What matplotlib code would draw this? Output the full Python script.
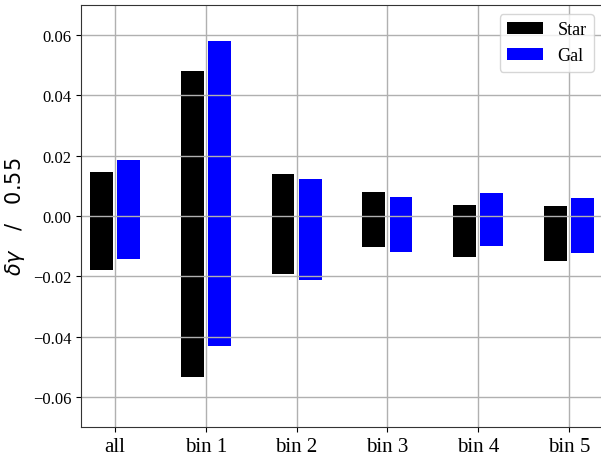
import matplotlib
matplotlib.use('Agg')
import matplotlib.pyplot as plt
import numpy as np

# bin labels and the floating bar ranges (low, high) for each sample
labels = ['all', 'bin 1', 'bin 2', 'bin 3', 'bin 4', 'bin 5']
star_low = [-0.0178, -0.0534, -0.0192, -0.0102, -0.0136, -0.0150]
star_high = [0.0146, 0.0482, 0.0140, 0.0080, 0.0037, 0.0033]
gal_low = [-0.0142, -0.0431, -0.0212, -0.0120, -0.0099, -0.0123]
gal_high = [0.0186, 0.0581, 0.0123, 0.0063, 0.0076, 0.0060]

plt.rcParams['font.family'] = 'serif'
plt.rcParams['font.serif'] = ['Liberation Serif', 'DejaVu Serif']
plt.rcParams['mathtext.fontset'] = 'dejavusans'

fig = plt.figure(figsize=(6.01, 4.56), dpi=100)
ax = fig.add_axes([81/601, 1-428/456, 522/601, 422/456])

x = np.arange(len(labels))
star_low = np.array(star_low)
gal_low = np.array(gal_low)
ax.bar(x-0.15, np.array(star_high)-star_low, bottom=star_low, width=0.25, color='black', label='Star')
ax.bar(x+0.15, np.array(gal_high)-gal_low, bottom=gal_low, width=0.25, color='blue', label='Gal')

ax.set_xlim(-0.375, 5.375)
ax.set_ylim(-0.07, 0.07)
ax.set_xticks(x)
ax.set_xticklabels(labels, fontsize=15)
ax.set_yticks([-0.06, -0.04, -0.02, 0.0, 0.02, 0.04, 0.06])
ax.set_yticklabels(['\u22120.06', '\u22120.04', '\u22120.02', '0.00', '0.02', '0.04', '0.06'], fontsize=12)
ax.grid(True, color='#b0b0b0', linewidth=1)
for s in ax.spines.values():
    s.set_color('#333333')

ax.set_ylabel(r'$\delta\gamma$   /   0.55', fontsize=15, family='DejaVu Sans')
ax.legend(loc='upper right', fontsize=13)

plt.savefig('out.png', dpi=100)
